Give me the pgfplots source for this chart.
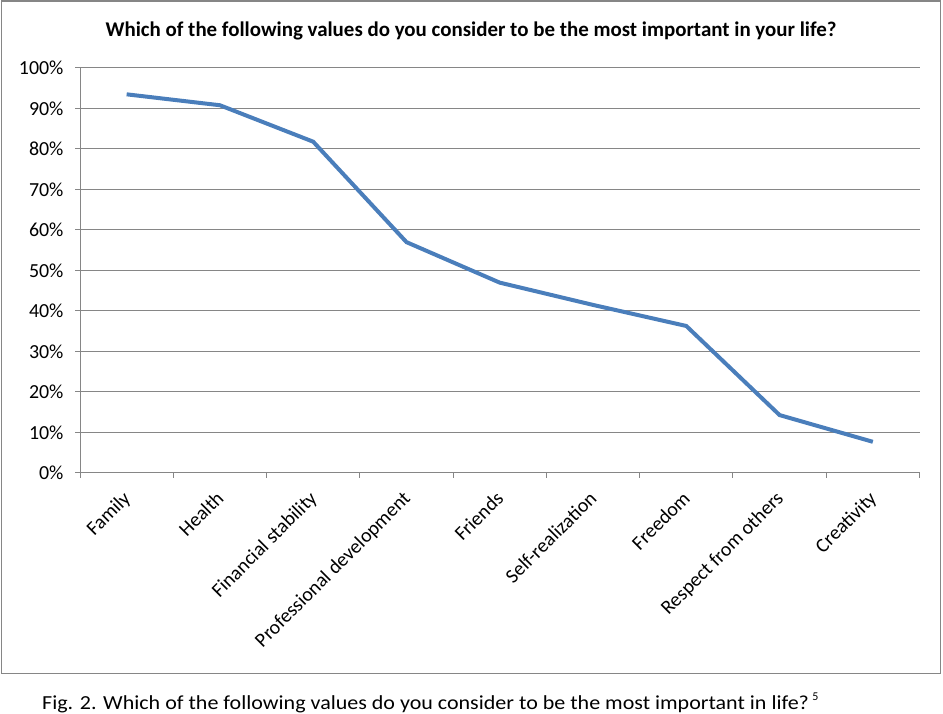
\documentclass[border=0pt]{standalone}
\usepackage{fontspec}
\setmainfont{Carlito}
\usepackage{pgfplots}
\pgfplotsset{compat=1.18}
\definecolor{lineblue}{HTML}{4A7EBB}
\definecolor{gridgray}{HTML}{868686}
\begin{document}
\begin{tikzpicture}[x=1bp,y=1bp]
\path (0,0) rectangle (943,712);
\draw[gridgray, line width=1.8bp] (1.5,710.8) rectangle (940.5,38.5);
\node[font=\bfseries\fontsize{21}{21}\selectfont] at (471,681) {Which of the following values do you consider to be the most important in your life?};
\node[anchor=west, inner sep=0pt, font=\fontsize{20}{20}\selectfont] at (42,9) {\scalebox{1.105}[1]{Fig. 2. Which of the following values do you consider to be the most important in life?}\,\raisebox{1.0ex}{\fontsize{12}{12}\selectfont 5}};
\begin{axis}[at={(80bp,239bp)}, anchor=south west, scale only axis,
  width=839.5bp, height=405bp,
  xmin=-0.5, xmax=8.5, ymin=0, ymax=100,
  axis lines=left, axis line style={gridgray, line width=1bp, -},
  ytick={0,10,...,100}, yticklabel={\pgfmathprintnumber{\tick}\%},
  ymajorgrids, grid style={gridgray, line width=1bp},
  xtick={-0.5,0.5,...,8.5}, xticklabels={},
  extra x ticks={0,1,2,3,4,5,6,7,8},
  extra x tick labels={Family,Health,Financial stability,Professional development,Friends,Self-realization,Freedom,Respect from others,Creativity},
  extra x tick style={major tick length=0pt},
  tick align=outside, major tick length=5bp,
  tick style={gridgray, line width=1bp},
  x tick label style={xshift=-5bp, yshift=-12bp, rotate=45, anchor=north east, font=\fontsize{20}{20}\selectfont},
  y tick label style={font=\fontsize{20}{20}\selectfont, xshift=-8bp},
  /pgf/number format/assume math mode=true,
  clip=false]
\addplot[lineblue, line width=4bp] coordinates {(0,93.5)(1,90.8)(2,81.8)(3,57.0)(4,47.0)(5,41.5)(6,36.3)(7,14.3)(8,7.7)};
\end{axis}
\end{tikzpicture}
\end{document}
